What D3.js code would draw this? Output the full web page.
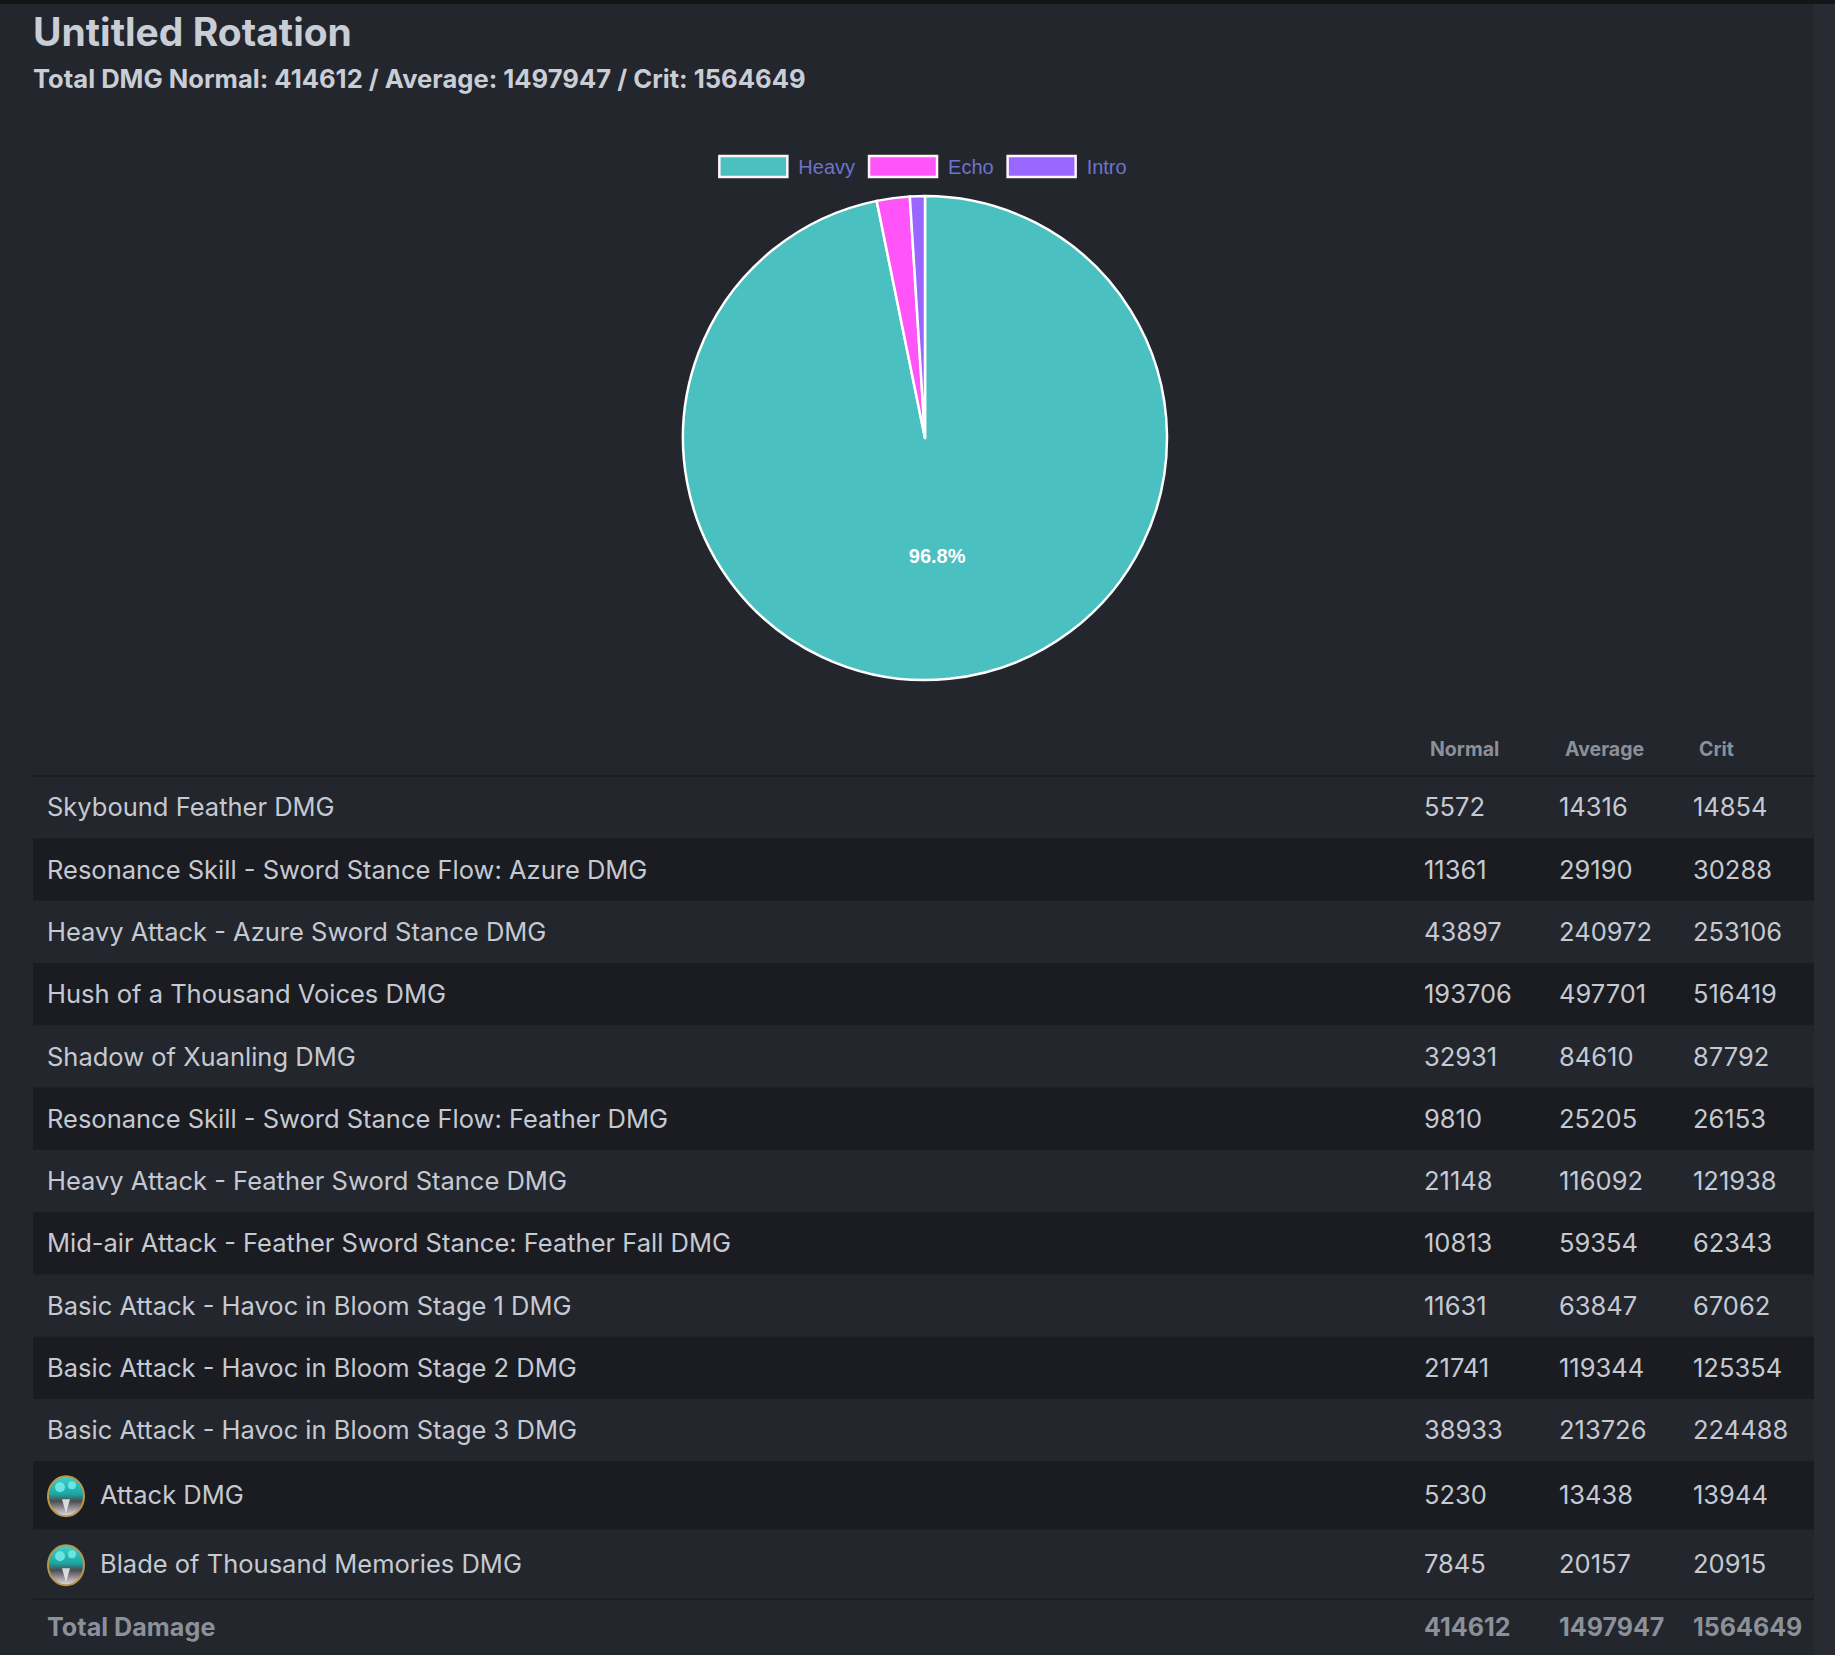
<!DOCTYPE html>
<html>
<head>
<meta charset="utf-8">
<script src="https://cdn.jsdelivr.net/npm/d3@7"></script>
<style>
  body { margin: 0; background: #23262d; }
  svg { display: block; }
</style>
</head>
<body>
<svg id="chart"></svg>
<script>
// pie slices (share of total, %)
var sliceNames = ["Heavy", "Echo", "Intro"]
var sliceValues = [96.8, 2.2, 1.0]
var sliceColors = ["#4bc0c0", "#ff55f8", "#9966ff"]

// table
var columns = ["Normal", "Average", "Crit"]
var rowNames = [
    "Skybound Feather DMG",
    "Resonance Skill - Sword Stance Flow: Azure DMG",
    "Heavy Attack - Azure Sword Stance DMG",
    "Hush of a Thousand Voices DMG",
    "Shadow of Xuanling DMG",
    "Resonance Skill - Sword Stance Flow: Feather DMG",
    "Heavy Attack - Feather Sword Stance DMG",
    "Mid-air Attack - Feather Sword Stance: Feather Fall DMG",
    "Basic Attack - Havoc in Bloom Stage 1 DMG",
    "Basic Attack - Havoc in Bloom Stage 2 DMG",
    "Basic Attack - Havoc in Bloom Stage 3 DMG",
    "Attack DMG",
    "Blade of Thousand Memories DMG"
]
var rowIcon = [false, false, false, false, false, false, false, false, false, false, false, true, true]
var normalDmg = [5572, 11361, 43897, 193706, 32931, 9810, 21148, 10813, 11631, 21741, 38933, 5230, 7845]
var averageDmg = [14316, 29190, 240972, 497701, 84610, 25205, 116092, 59354, 63847, 119344, 213726, 13438, 20157]
var critDmg = [14854, 30288, 253106, 516419, 87792, 26153, 121938, 62343, 67062, 125354, 224488, 13944, 20915]
var totals = [414612, 1497947, 1564649]

var dims = {
    width: 1835,
    height: 1655,
    margin: { left: 33, right: 21 }
}

var svg = d3.select("#chart")
            .attr("width", dims.width)
            .attr("height", dims.height)

svg.append("rect")
   .attr("width", dims.width)
   .attr("height", dims.height)
   .attr("fill", "#23262d")

svg.append("rect")
   .attr("width", dims.width)
   .attr("height", 4)
   .attr("fill", "#141517")

// scrollbar-ish strip on the right
svg.append("rect")
   .attr("x", dims.width - dims.margin.right)
   .attr("y", 4)
   .attr("width", dims.margin.right)
   .attr("height", dims.height)
   .attr("fill", "#282b31")

// titles
svg.append("text")
   .attr("x", dims.margin.left)
   .attr("y", 46)
   .attr("font-family", "Inter, 'Noto Sans', sans-serif")
   .attr("font-weight", 700)
   .attr("font-size", "39px")
   .attr("fill", "#c9cdd6")
   .text("Untitled Rotation")

svg.append("text")
   .attr("x", dims.margin.left)
   .attr("y", 88)
   .attr("font-family", "Inter, 'Noto Sans', sans-serif")
   .attr("font-weight", 700)
   .attr("font-size", "25.6px")
   .attr("fill", "#c9cdd6")
   .text("Total DMG Normal: " + totals[0] + " / Average: " + totals[1] + " / Crit: " + totals[2])

// pie
var pieCenter = { x: 925, y: 438 }
var radius = 242

var color = d3.scaleOrdinal().domain(sliceNames).range(sliceColors)

var pie = d3.pie().sort(null).value(d => d.value)
var arcs = pie(sliceNames.map((n, i) => ({ name: n, value: sliceValues[i] })))
var arcGen = d3.arc().innerRadius(0).outerRadius(radius)
var total = d3.sum(sliceValues)

var pieG = svg.append("g")
              .attr("transform", `translate(${pieCenter.x},${pieCenter.y})`)

pieG.selectAll("path")
    .data(arcs)
    .enter()
    .append("path")
    .attr("d", arcGen)
    .attr("fill", d => color(d.data.name))
    .attr("stroke", "#ffffff")
    .attr("stroke-width", 2.5)
    .attr("stroke-linejoin", "round")

pieG.selectAll("text")
    .data(arcs.filter(d => d.data.value / total > 0.05))
    .enter()
    .append("text")
    .attr("x", d => arcGen.centroid(d)[0])
    .attr("y", d => arcGen.centroid(d)[1] - 2)
    .attr("dy", "0.35em")
    .attr("text-anchor", "middle")
    .attr("font-family", "'Liberation Sans', Arial, sans-serif")
    .attr("font-weight", 700)
    .attr("font-size", "20px")
    .attr("fill", "#ffffff")
    .text(d => (d.data.value / total * 100).toFixed(1) + "%")

// legend
var legend = { y: 156, boxW: 68, boxH: 21, gap: 11, itemGap: 14 }
var legendG = svg.append("g")
var lx = 0
sliceNames.forEach(function(name) {
    var item = legendG.append("g").attr("transform", `translate(${lx},0)`)
    item.append("rect")
        .attr("x", 0)
        .attr("y", legend.y)
        .attr("width", legend.boxW)
        .attr("height", legend.boxH)
        .attr("fill", color(name))
        .attr("stroke", "#fff4fb")
        .attr("stroke-width", 2.5)
    var t = item.append("text")
        .attr("x", legend.boxW + legend.gap)
        .attr("y", legend.y + legend.boxH / 2)
        .attr("dy", "0.35em")
        .attr("font-family", "'Liberation Sans', Arial, sans-serif")
        .attr("font-size", "20px")
        .attr("fill", "#6e73cc")
        .text(name)
    lx += legend.boxW + legend.gap + t.node().getComputedTextLength() + legend.itemGap
})
var legendW = lx - legend.itemGap
legendG.attr("transform", `translate(${pieCenter.x - 2 - legendW / 2},0)`)

// table
var table = {
    left: dims.margin.left,
    right: dims.width - dims.margin.right,
    headerY: 749,
    top: 776,
    rowH: 62.3,
    iconRowH: [68, 70],
    textX: 47,
    iconTextX: 100
}
var colX = d3.scaleOrdinal().domain(columns).range([1424, 1559, 1693])

svg.append("g")
   .selectAll("text")
   .data(columns)
   .enter()
   .append("text")
   .attr("x", d => colX(d) + 6)
   .attr("y", table.headerY)
   .attr("dy", "0.35em")
   .attr("font-family", "Inter, 'Noto Sans', sans-serif")
   .attr("font-weight", 700)
   .attr("font-size", "19.5px")
   .attr("fill", "#8b9099")
   .text(d => d)

svg.append("line")
   .attr("x1", table.left)
   .attr("x2", table.right)
   .attr("y1", table.top)
   .attr("y2", table.top)
   .attr("stroke", "#1b1d22")
   .attr("stroke-width", 2)

// row positions
var rows = []
var ry = table.top
var iconIdx = 0
rowNames.forEach(function(name, i) {
    var h = rowIcon[i] ? table.iconRowH[iconIdx++] : table.rowH
    rows.push({
        name: name,
        icon: rowIcon[i],
        y: ry,
        h: h,
        values: [normalDmg[i], averageDmg[i], critDmg[i]],
        dark: i % 2 == 1
    })
    ry += h
})

var defs = svg.append("defs")
var grad = defs.append("linearGradient")
               .attr("id", "iconFill")
               .attr("x1", "0").attr("y1", "0")
               .attr("x2", "0").attr("y2", "1")
grad.append("stop").attr("offset", "0%").attr("stop-color", "#3fd2cb")
grad.append("stop").attr("offset", "45%").attr("stop-color", "#1aa6a3")
grad.append("stop").attr("offset", "62%").attr("stop-color", "#4d4b50")
grad.append("stop").attr("offset", "100%").attr("stop-color", "#e6e0e6")

var rowG = svg.append("g")
              .selectAll("g")
              .data(rows)
              .enter()
              .append("g")
              .attr("transform", d => `translate(0,${d.y})`)

rowG.append("rect")
    .attr("x", table.left)
    .attr("width", table.right - table.left)
    .attr("height", d => d.h)
    .attr("fill", d => d.dark ? "#1a1c21" : "none")

var icons = rowG.filter(d => d.icon)
icons.append("ellipse")
    .attr("cx", 66)
    .attr("cy", d => d.h / 2 + 1)
    .attr("rx", 18)
    .attr("ry", 20)
    .attr("fill", "url(#iconFill)")
    .attr("stroke", "#b9974a")
    .attr("stroke-width", 2)
icons.append("circle")
    .attr("cx", 60)
    .attr("cy", d => d.h / 2 - 8)
    .attr("r", 5)
    .attr("fill", "#7cf0ea")
    .attr("opacity", 0.8)
icons.append("circle")
    .attr("cx", 72)
    .attr("cy", d => d.h / 2 - 10)
    .attr("r", 4)
    .attr("fill", "#7cf0ea")
    .attr("opacity", 0.8)
icons.append("path")
    .attr("d", d => `M62,${d.h / 2 + 4} L66,${d.h / 2 + 18} L70,${d.h / 2 + 4}`)
    .attr("fill", "#f2eef2")
    .attr("opacity", 0.85)

rowG.append("text")
    .attr("x", d => d.icon ? table.iconTextX : table.textX)
    .attr("y", d => d.h / 2)
    .attr("dy", "0.36em")
    .attr("font-family", "Inter, 'Noto Sans', sans-serif")
    .attr("font-size", "25.5px")
    .attr("fill", "#c5c9d1")
    .text(d => d.name)

rowG.selectAll("text.val")
    .data(d => d.values.map((v, j) => ({ col: columns[j], v: v, h: d.h })))
    .enter()
    .append("text")
    .attr("class", "val")
    .attr("x", d => colX(d.col))
    .attr("y", d => d.h / 2)
    .attr("dy", "0.36em")
    .attr("font-family", "Inter, 'Noto Sans', sans-serif")
    .attr("font-size", "25.5px")
    .attr("fill", "#c5c9d1")
    .text(d => d.v)

// total row
svg.append("line")
   .attr("x1", table.left)
   .attr("x2", table.right)
   .attr("y1", ry)
   .attr("y2", ry)
   .attr("stroke", "#1b1d22")
   .attr("stroke-width", 2)

var totalY = ry + 28
svg.append("text")
   .attr("x", table.textX)
   .attr("y", totalY)
   .attr("dy", "0.35em")
   .attr("font-family", "Inter, 'Noto Sans', sans-serif")
   .attr("font-weight", 700)
   .attr("font-size", "25.2px")
   .attr("fill", "#8b9099")
   .text("Total Damage")

svg.append("g")
   .selectAll("text")
   .data(totals)
   .enter()
   .append("text")
   .attr("x", (d, j) => colX(columns[j]))
   .attr("y", totalY)
   .attr("dy", "0.35em")
   .attr("font-family", "Inter, 'Noto Sans', sans-serif")
   .attr("font-weight", 700)
   .attr("font-size", "25px")
   .attr("fill", "#8b9099")
   .text(d => d)
</script>
</body>
</html>
